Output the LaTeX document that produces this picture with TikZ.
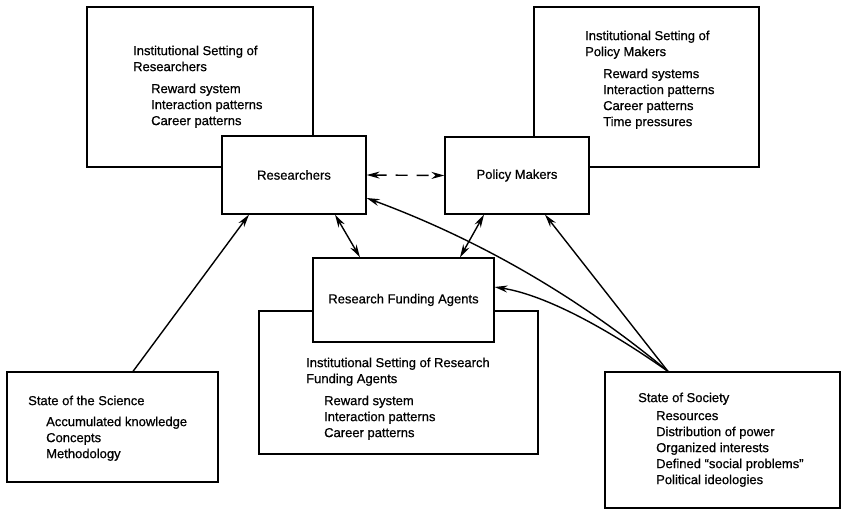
\documentclass[tikz,border=0pt]{standalone}
\usepackage{fontspec}
\setmainfont{Liberation Sans}
\newfontfamily\scanfont[FakeBold=0.6,Ligatures=TeX]{Liberation Sans}
\usetikzlibrary{arrows.meta}
\newcommand{\itm}{\hspace*{18pt}}

\begin{document}
\begin{tikzpicture}[x=1pt,y=-1pt,
  frame/.style={draw=black, line width=1.2pt, fill=white, inner sep=0pt, font=\scanfont\fontsize{13}{16}\selectfont},
  lbl/.style={anchor=north west, inner sep=0pt, align=left, font=\scanfont\fontsize{13}{16}\selectfont},
  link/.style={line width=1.4pt, -{Stealth[length=13pt,width=7pt]}},
  both/.style={line width=1.4pt, {Stealth[length=13pt,width=7pt]}-{Stealth[length=13pt,width=7pt]}}]
\useasboundingbox (0,0) rectangle (844,511);

\node[frame, minimum width=226pt, minimum height=160pt] (isr) at (200,87) {};
\node[frame, minimum width=225pt, minimum height=160pt] (isp) at (646.5,87) {};
\node[frame, minimum width=279pt, minimum height=143pt] (isf) at (398.5,382.5) {};
\node[frame, minimum width=211pt, minimum height=110pt] (sci) at (112.5,427) {};
\node[frame, minimum width=235pt, minimum height=136pt] (soc) at (722.5,440) {};

\node[lbl] (isrtext) at (133,45.5) {Institutional Setting of\\Researchers\\[6pt]\itm Reward system\\\itm Interaction patterns\\\itm Career patterns};
\node[lbl] (isptext) at (585,30.5) {Institutional Setting of\\Policy Makers\\[6pt]\itm Reward systems\\\itm Interaction patterns\\\itm Career patterns\\\itm Time pressures};
\node[lbl] (isftext) at (306,357.5) {Institutional Setting of Research\\Funding Agents\\[6pt]\itm Reward system\\\itm Interaction patterns\\\itm Career patterns};
\node[lbl] (scitext) at (28,395.5) {State of the Science\\[5pt]\itm Accumulated knowledge\\\itm Concepts\\\itm Methodology};
\node[lbl] (soctext) at (638,392.5) {State of Society\\[2pt]\itm Resources\\\itm Distribution of power\\\itm Organized interests\\\itm Defined ``social problems''\\\itm Political ideologies};

\node[frame, minimum width=144pt, minimum height=78pt] (res) at (294,175) {Researchers};
\node[frame, minimum width=144pt, minimum height=77pt] (pol) at (517,175.5) {Policy Makers};
\node[frame, minimum width=181pt, minimum height=84pt] (rfa) at (403.5,300) {Research Funding Agents};

\draw[link] ([xshift=20.5pt]sci.north) -- ([xshift=-45pt]res.south);
\draw[both] ([xshift=41pt]res.south) -- ([xshift=-43.5pt]rfa.north);
\draw[both] ([xshift=-33pt]pol.south) -- ([xshift=56.5pt]rfa.north);
\draw[both, dash pattern=on 12pt off 9pt] (res.east) -- (pol.west);

\coordinate (src) at ([xshift=-54.5pt]soc.north);
\draw[link] (src) -- ([xshift=28pt]pol.south);
\draw[link] (src) .. controls +(-90,-75) and +(111,41) .. ([yshift=-23pt]res.east);
\draw[link] (src) .. controls +(-71,-50) and +(45,7) .. ([yshift=13pt]rfa.east);
\end{tikzpicture}
\end{document}
